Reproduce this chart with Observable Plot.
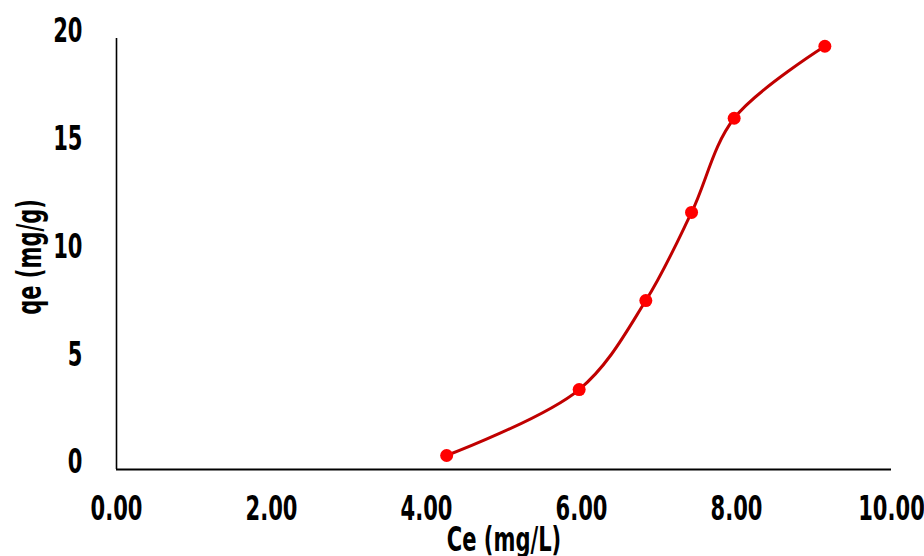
<!DOCTYPE html>
<html><head><meta charset="utf-8">
<script src="https://cdn.jsdelivr.net/npm/d3@7"></script>
<script src="https://cdn.jsdelivr.net/npm/@observablehq/plot@0.6"></script>
<style>
body{margin:0;background:#fff;}
#chart svg{font-family:"DejaVu Sans",sans-serif;font-weight:bold;}
</style></head><body><div id="chart"></div>
<script>
const ce = [4.26, 5.97, 6.83, 7.42, 7.97, 9.14];
const qe = [0.65, 3.71, 7.84, 11.93, 16.30, 19.64];
const xTicks = [0, 2, 4, 6, 8, 10];
const yTicks = [0, 5, 10, 15, 20];
const xTitle = "Ce (mg/L)";
const yTitle = "qe (mg/g)";
const data = ce.map((c, i) => ({ce: c, qe: qe[i]}));
const font = '"DejaVu Sans",sans-serif';
const chart = Plot.plot({
  width: 924, height: 556,
  marginLeft: 116, marginRight: 33, marginTop: 38, marginBottom: 87,
  style: {background: "#fff", color: "#000", fontSize: "34px", fontFamily: font, fontWeight: "bold", overflow: "visible"},
  x: {domain: [0, 10]},
  y: {domain: [0, 20]},
  marks: [
    Plot.axisX({ticks: xTicks, tickFormat: d => d.toFixed(2), tickSize: 0, tickPadding: 26, label: null, fontSize: 34, fontWeight: "bold"}),
    Plot.axisY({ticks: yTicks, tickSize: 0, tickPadding: 34, dy: -7, label: null, fontSize: 34, fontWeight: "bold"}),
    Plot.ruleY([0], {stroke: "#000", strokeWidth: 2}),
    Plot.ruleX([0], {stroke: "#000", strokeWidth: 1.6}),
    Plot.line(data, {x: "ce", y: "qe", curve: "catmull-rom", stroke: "#C00000", strokeWidth: 3}),
    Plot.dot(data, {x: "ce", y: "qe", r: 6.5, fill: "#FF0000", stroke: "none"}),
    Plot.text([xTitle], {frameAnchor: "bottom", dy: 71, text: d => d, fontSize: 34, fontWeight: "bold", lineAnchor: "middle", textAnchor: "middle"}),
    Plot.text([yTitle], {frameAnchor: "left", dx: -86, dy: 3, rotate: -90, text: d => d, fontSize: 34, fontWeight: "bold", lineAnchor: "middle", textAnchor: "middle"})
  ]
});
// condense glyphs horizontally (the reference uses a narrow display face)
const SX = 0.62;
chart.querySelectorAll("text").forEach(el => {
  const t = el.getAttribute("transform") || "";
  const x = +(el.getAttribute("x") || 0);
  if (x) el.setAttribute("x", x / SX);
  el.setAttribute("transform", (t + ` scale(${SX},1)`).trim());
});
document.getElementById("chart").appendChild(chart);
</script></body></html>
